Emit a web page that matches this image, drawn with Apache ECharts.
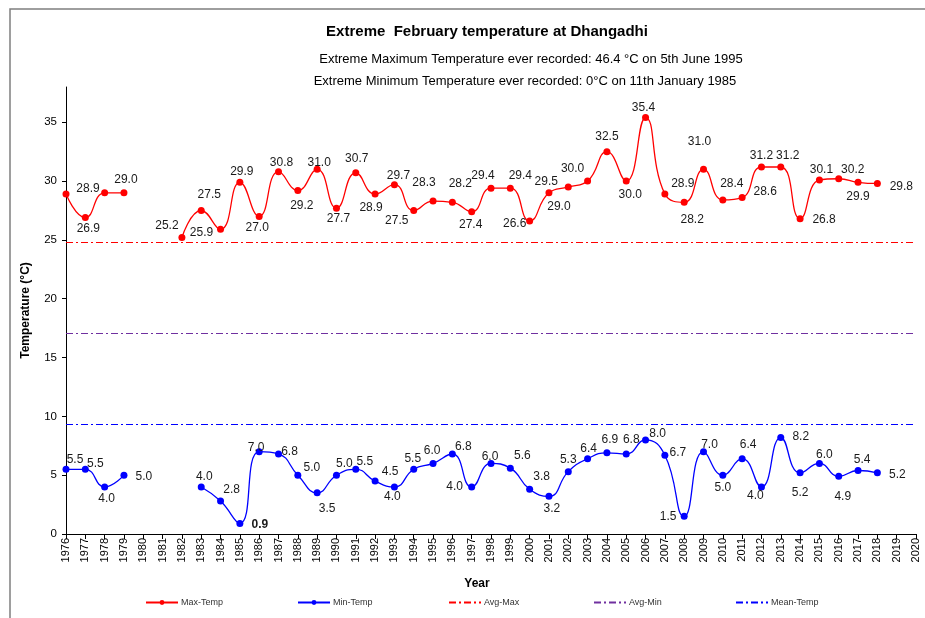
<!DOCTYPE html>
<html>
<head>
<meta charset="utf-8">
<title>Extreme February temperature at Dhangadhi</title>
<script src="https://cdn.jsdelivr.net/npm/echarts@6/dist/echarts.min.js"></script>
<style>
  html, body { margin: 0; padding: 0; background: #fff; }
  #chart { width: 925px; height: 618px; }
</style>
</head>
<body>
<div id="chart"></div>
<script>
// years on the x axis
const years = ['1976', '1977', '1978', '1979', '1980', '1981', '1982', '1983', '1984', '1985',
  '1986', '1987', '1988', '1989', '1990', '1991', '1992', '1993', '1994', '1995',
  '1996', '1997', '1998', '1999', '2000', '2001', '2002', '2003', '2004', '2005',
  '2006', '2007', '2008', '2009', '2010', '2011', '2012', '2013', '2014', '2015',
  '2016', '2017', '2018', '2019', '2020'];

const maxTemp = [28.9, 26.9, 29.0, 29.0, null, null, 25.2, 27.5, 25.9, 29.9,
  27.0, 30.8, 29.2, 31.0, 27.7, 30.7, 28.9, 29.7, 27.5, 28.3,
  28.2, 27.4, 29.4, 29.4, 26.6, 29.0, 29.5, 30.0, 32.5, 30.0,
  35.4, 28.9, 28.2, 31.0, 28.4, 28.6, 31.2, 31.2, 26.8, 30.1,
  30.2, 29.9, 29.8, null, null];

const minTemp = [5.5, 5.5, 4.0, 5.0, null, null, null, 4.0, 2.8, 0.9,
  7.0, 6.8, 5.0, 3.5, 5.0, 5.5, 4.5, 4.0, 5.5, 6.0,
  6.8, 4.0, 6.0, 5.6, 3.8, 3.2, 5.3, 6.4, 6.9, 6.8,
  8.0, 6.7, 1.5, 7.0, 5.0, 6.4, 4.0, 8.2, 5.2, 6.0,
  4.9, 5.4, 5.2, null, null];

const avgMax = 24.8;
const avgMin = 17.1;
const meanTemp = 9.3;

const yTicks = [0, 5, 10, 15, 20, 25, 30, 35];

// where each value label sits relative to its point [dx, dy]
const maxLabelOffset = [[22, -5], [3, 11], null, [2, -13], null, null, [-15, -12], [8, -16], [-19, 3], [2, -11],
  [-2, 11], [3, -9], [4, 15], [2, -7], [2, 11], [1, -14], [-4, 14], [4, -9], [-17, 10], [-9, -18],
  [8, -19], [-1, 13], [-8, -12], [10, -12], [-15, 3], [10, 14], [-22, -5], [-15, -12], [0, -15], [4, 14],
  [-2, -10], [18, -10], [8, 17], [-4, -28], [9, -16], [23, -6], [0, -11], [7, -11], [24, 1], [2, -10],
  [14, -9], [0, 14], [24, 3], null, null];

const minLabelOffset = [[9, -10], [10, -6], [2, 12], [20, 2], null, null, null, [3, -10], [11, -11], [20, 1],
  [-3, -4], [11, -2], [14, -7], [10, 16], [8, -11], [9, -8], [15, -9], [-2, 10], [-1, -11], [-1, -13],
  [11, -7], [-17, 0], [-1, -7], [12, -12], [12, -13], [3, 12], [0, -12], [1, -10], [3, -13], [5, -14],
  [12, -6], [13, -2], [-16, 0], [6, -7], [0, 13], [6, -14], [-6, 9], [20, -1], [0, 20], [5, -9],
  [4, 20], [4, -11], [20, 2], null, null];

const FONT = '"Liberation Sans", Arial, sans-serif';
const NARROW = '"Liberation Sans Narrow", "Liberation Sans", Arial, sans-serif';

function buildPoints(values, offsets, boldYear) {
  return values.map((v, i) => {
    if (v === null) return null;
    const off = offsets[i];
    return {
      value: v,
      label: off
        ? { show: true, offset: off, fontWeight: years[i] === boldYear ? 'bold' : 'normal' }
        : { show: false },
    };
  });
}

function refLine(name, value, color) {
  return {
    name: name,
    type: 'line',
    data: [],
    symbol: 'none',
    lineStyle: { color: color, width: 1, type: [7, 3, 2, 3] },
    itemStyle: { color: color },
    markLine: {
      silent: true,
      symbol: 'none',
      label: { show: false },
      lineStyle: { color: color, width: 1, type: [7, 3, 2, 3] },
      data: [{ yAxis: value }],
    },
  };
}

const legendLeft = [145, 297, 448, 593, 735];
const legendNames = ['Max-Temp', 'Min-Temp', 'Avg-Max', 'Avg-Min', 'Mean-Temp'];

const chart = echarts.init(document.getElementById('chart'));

const option = {
  backgroundColor: '#fff',
  animation: false,
  textStyle: { fontFamily: FONT },
  graphic: [
    {
      type: 'rect',
      shape: { x: 10, y: 9, width: 1000, height: 700 },
      style: { fill: 'none', stroke: '#7f7f7f', lineWidth: 1.5 },
      silent: true,
    },
    {
      type: 'text',
      x: 487, y: 32,
      style: { text: 'Extreme  February temperature at Dhangadhi', font: 'bold 15px ' + FONT, fill: '#000', align: 'center', verticalAlign: 'middle' },
    },
    {
      type: 'text',
      x: 531, y: 59,
      style: { text: 'Extreme Maximum Temperature ever recorded: 46.4 °C on 5th June 1995', font: '13px ' + FONT, fill: '#000', align: 'center', verticalAlign: 'middle' },
    },
    {
      type: 'text',
      x: 525, y: 81,
      style: { text: 'Extreme Minimum Temperature ever recorded: 0°C on 11th January 1985', font: '13px ' + FONT, fill: '#000', align: 'center', verticalAlign: 'middle' },
    },
    {
      type: 'text',
      x: 477, y: 584,
      style: { text: 'Year', font: 'bold 12px ' + FONT, fill: '#000', align: 'center', verticalAlign: 'middle' },
    },
  ],
  legend: legendNames.map((n, i) => ({
    data: [n],
    left: legendLeft[i],
    top: 598,
    padding: 0,
    itemWidth: 32,
    itemHeight: 6,
    itemGap: 0,
    // the reference lines show no marker in the key
    itemStyle: i >= 2 ? { opacity: 0 } : {},
    textStyle: { fontSize: 9, color: '#333', fontFamily: NARROW, padding: [0, 0, 0, -2] },
  })),
  grid: { left: 66, right: 9, top: 87, bottom: 84 },
  xAxis: {
    type: 'category',
    data: years,
    boundaryGap: false,
    axisLine: { lineStyle: { color: '#000', width: 1 } },
    axisTick: { interval: 0, length: 5, lineStyle: { color: '#000' } },
    axisLabel: { interval: 0, rotate: 90, fontSize: 11, color: '#000', margin: 4 },
    splitLine: { show: false },
  },
  yAxis: {
    type: 'value',
    min: 0,
    max: 38,
    interval: 5,
    name: 'Temperature (°C)',
    nameLocation: 'middle',
    nameRotate: 90,
    nameGap: 34,
    nameTextStyle: { fontWeight: 'bold', fontSize: 12, color: '#000' },
    axisLine: { show: true, lineStyle: { color: '#000', width: 1 } },
    axisTick: { show: true, length: 4, customValues: yTicks, lineStyle: { color: '#000' } },
    axisLabel: { fontSize: 11.5, color: '#000', margin: 9, customValues: yTicks },
    splitLine: { show: false },
  },
  series: [
    {
      name: 'Max-Temp',
      type: 'line',
      smooth: 0.5,
      symbol: 'circle',
      symbolSize: 7,
      connectNulls: false,
      itemStyle: { color: '#ff0000' },
      lineStyle: { color: '#ff0000', width: 1.3 },
      label: { show: true, position: 'inside', fontSize: 12, color: '#1a1a1a', formatter: (p) => p.value.toFixed(1) },
      data: buildPoints(maxTemp, maxLabelOffset),
    },
    {
      name: 'Min-Temp',
      type: 'line',
      smooth: 0.5,
      symbol: 'circle',
      symbolSize: 7,
      connectNulls: false,
      itemStyle: { color: '#0000ff' },
      lineStyle: { color: '#0000ff', width: 1.3 },
      label: { show: true, position: 'inside', fontSize: 12, color: '#1a1a1a', formatter: (p) => p.value.toFixed(1) },
      data: buildPoints(minTemp, minLabelOffset, '1985'),
    },
    refLine('Avg-Max', avgMax, '#ff0000'),
    refLine('Avg-Min', avgMin, '#7030a0'),
    refLine('Mean-Temp', meanTemp, '#0000ff'),
  ],
};

chart.setOption(option);
</script>
</body>
</html>
